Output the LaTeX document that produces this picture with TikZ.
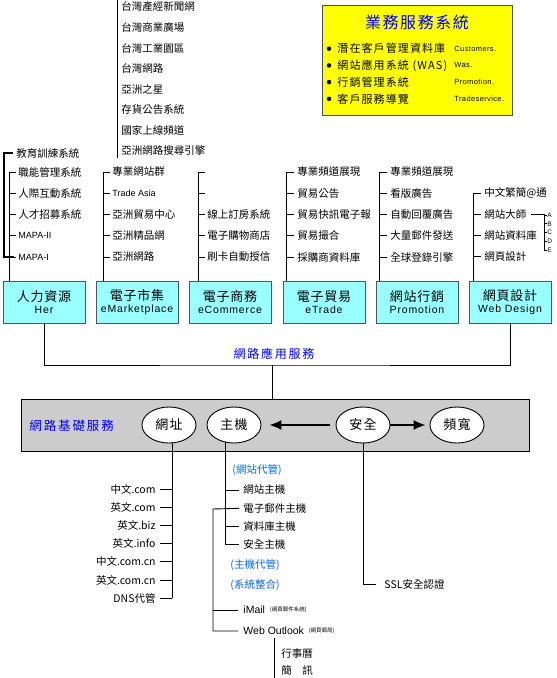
\documentclass[tikz,border=0pt]{standalone}
\usepackage{fontspec}
\setmainfont{Noto Sans CJK TC}
\newfontfamily\latinfont{Liberation Sans}
\usepackage{tikz}
\usetikzlibrary{shapes,arrows.meta,positioning,calc}
\definecolor{bizyellow}{RGB}{255,255,0}
\definecolor{svcblue}{RGB}{0,0,255}
\definecolor{hostblue}{RGB}{0,102,255}
\definecolor{boxcyan}{RGB}{153,255,255}
\definecolor{bandgray}{RGB}{204,204,204}
\definecolor{boxedge}{RGB}{70,90,100}

\tikzset{
  item/.style={anchor=west,inner sep=0pt,font=\fontsize{10.5}{11}\selectfont},
  ritem/.style={anchor=east,inner sep=0pt,font=\fontsize{10.5}{11}\selectfont},
  svcbox/.style={draw=boxedge,fill=boxcyan,minimum width=82pt,minimum height=42pt,inner sep=0pt,align=center},
  oval/.style={ellipse,draw,fill=white,minimum width=54pt,minimum height=36pt,inner sep=0pt,
               font=\fontsize{13}{13}\selectfont\addfontfeature{LetterSpace=8}},
  bluetxt/.style={anchor=west,inner sep=0pt,text=hostblue,font=\fontsize{10.5}{11}\selectfont},
  bigarrow/.style={-{Latex[length=12pt,width=10pt]},line width=1.4pt},
}
\newcommand{\boxlabel}[2]{{\fontsize{13}{17}\selectfont\addfontfeature{LetterSpace=6}#1}\\{\latinfont\fontsize{10.5}{12}\selectfont\addfontfeature{LetterSpace=8}#2}}
\newcommand{\lat}[1]{{\latinfont\fontsize{9}{9}\selectfont #1}}

\begin{document}
\begin{tikzpicture}[x=1pt,y=-1pt,line width=0.9pt]
\useasboundingbox (0,0) rectangle (557,678);

% 業務服務系統
\node[draw=black!70,fill=bizyellow,minimum width=190pt,minimum height=110pt,inner sep=0pt] (biz) at (417,60) {};
\node[text=svcblue,inner sep=0pt,font=\fontsize{16}{16}\selectfont\addfontfeature{LetterSpace=10}] (biztitle) at (417,22) {業務服務系統};
\foreach \txt/\eng [count=\i] in {潛在客戶管理資料庫/Customers.,網站應用系統 (WAS)/Was.,行銷管理系統/Promotion.,客戶服務導覽/Tradeservice.} {
  \node[circle,fill,inner sep=0pt,minimum size=4.5pt] (bul\i) at (329,{32+\i*16.7}) {};
  \node[item,font=\fontsize{11}{11}\selectfont\addfontfeature{LetterSpace=10}] (biz\i) at (337,{32+\i*16.7}) {\txt};
  \node[item,font=\latinfont\fontsize{7.5}{8}\selectfont\addfontfeature{LetterSpace=5}] (bizen\i) at (454,{32+\i*16.7}) {\eng};
}

% service boxes
\node[svcbox] (hr) at (44,302) {\boxlabel{人力資源}{Her}};
\node[svcbox] (emkt) at (137,302) {\boxlabel{電子市集}{eMarketplace}};
\node[svcbox] (ecom) at (230,302) {\boxlabel{電子商務}{eCommerce}};
\node[svcbox] (etrade) at (324,302) {\boxlabel{電子貿易}{eTrade}};
\node[svcbox] (promo) at (417,302) {\boxlabel{網站行銷}{Promotion}};
\node[svcbox] (webd) at (510,302) {\boxlabel{網頁設計}{Web Design}};

% 人力資源
\coordinate (hrspine) at (9,172);
\coordinate (hrouter) at (4,153);
\node[item] (hr0) at (16,153) {教育訓練系統};
\foreach \txt [count=\i] in {職能管理系統,人際互動系統,人才招募系統,\lat{MAPA-II},\lat{MAPA-I}} {
  \node[item] (hr\i) at (18,{172+(\i-1)*21.25}) {\txt};
  \draw (hrspine |- hr\i.west) -- ([xshift=-2pt]hr\i.west);
}
\draw (hrspine) -- (hrspine |- hr.north);
\draw[line width=1.8pt] ([xshift=-3pt]hr0.west) -| (hrouter |- hr5.west) -- ([xshift=-4pt]hr5.west);

% 電子市集
\coordinate (mkttop) at (117,0);
\coordinate (mktbot) at (117,158);
\draw (mkttop) -- (mktbot);
\foreach \txt [count=\i] in {台灣產經新聞網,台灣商業廣場,台灣工業園區,台灣網路,亞洲之星,存貨公告系統,國家上線頻道,亞洲網路搜尋引擎}
  \node[item] (mkt\i) at (121,{7+(\i-1)*20.5}) {\txt};
\coordinate (emspine) at (103,172);
\foreach \txt [count=\i] in {專業網站群,\lat{Trade Asia},亞洲貿易中心,亞洲精品網,亞洲網路} {
  \node[item] (em\i) at (112,{172+(\i-1)*21.25}) {\txt};
  \draw (emspine |- em\i.west) -- ([xshift=-2pt]em\i.west);
}
\draw (emspine) -- (emspine |- emkt.north);

% 電子商務
\coordinate (ecspine) at (198,172);
\coordinate (ec1) at (205,172);
\coordinate (ec2) at (205,193);
\draw (ecspine) -- (ec1);
\draw (ecspine |- ec2) -- (ec2);
\foreach \txt [count=\i from 3] in {線上訂房系統,電子購物商店,刷卡自動授信} {
  \node[item] (ec\i) at (207,{172+(\i-1)*21.25}) {\txt};
  \draw (ecspine |- ec\i.west) -- ([xshift=-2pt]ec\i.west);
}
\draw (ecspine) -- (ecspine |- ecom.north);

% 電子貿易
\coordinate (etspine) at (286,172);
\foreach \txt [count=\i] in {專業頻道展現,貿易公告,貿易快訊電子報,貿易撮合,採購商資料庫} {
  \node[item] (et\i) at (297,{172+(\i-1)*21.25}) {\txt};
  \draw (etspine |- et\i.west) -- ([xshift=-3pt]et\i.west);
}
\draw (etspine) -- (etspine |- etrade.north);

% 網站行銷
\coordinate (prspine) at (379,172);
\foreach \txt [count=\i] in {專業頻道展現,看版廣告,自動回覆廣告,大量郵件發送,全球登錄引擎} {
  \node[item] (pr\i) at (390,{172+(\i-1)*21.25}) {\txt};
  \draw (prspine |- pr\i.west) -- ([xshift=-3pt]pr\i.west);
}
\draw (prspine) -- (prspine |- promo.north);

% 網頁設計
\coordinate (wdspine) at (473,193);
\foreach \txt [count=\i] in {中文繁簡@通,網站大師,網站資料庫,網頁設計} {
  \node[item] (wd\i) at (484,{193+(\i-1)*21.3}) {\txt};
  \draw (wdspine |- wd\i.west) -- ([xshift=-3pt]wd\i.west);
}
\draw (wdspine) -- (wdspine |- webd.north);
\coordinate (abc) at (544,215);
\foreach \l [count=\i] in {A,B,C,D,E} {
  \node[anchor=west,inner sep=0pt,font=\latinfont\fontsize{6.5}{6.5}\selectfont] (ltr\i) at (547,{215+(\i-1)*8.8}) {\l};
  \draw[line width=0.7pt] (abc |- ltr\i.west) -- (ltr\i.west);
}
\draw ([xshift=4pt]wd2.east) -- (abc |- wd2.east) -- (abc |- ltr5.west);

% 網路應用服務
\coordinate (appjoin) at (272,365);
\draw (hr.south) |- (appjoin) -| (webd.south);
\node[text=svcblue,inner sep=0pt,font=\fontsize{12}{12}\selectfont\addfontfeature{LetterSpace=15}] (applbl) at (274,354) {網路應用服務};

% 網路基礎服務
\node[draw,fill=bandgray,minimum width=508pt,minimum height=52pt,inner sep=0pt] (band) at (275,425) {};
\draw (appjoin) -- (appjoin |- band.north);
\node[anchor=west,inner sep=0pt,text=svcblue,font=\fontsize{12.5}{13}\selectfont\addfontfeature{LetterSpace=15}] (bandlbl) at (29,426) {網路基礎服務};
\node[oval] (addr) at (169,425) {網址};
\node[oval] (host) at (234,425) {主機};
\node[oval] (sec) at (363,425) {安全};
\node[oval] (bw) at (457,425) {頻寬};
\draw[bigarrow,shorten <=6pt,shorten >=8pt] (sec) -- (host);
\draw[bigarrow,shorten >=4pt] (sec) -- (bw);

% 網址
\coordinate (addrspine) at (172,443);
\foreach \txt [count=\i] in {中文.com,英文.com,英文.biz,英文.info,中文.com.cn,英文.com.cn,DNS代管} {
  \node[ritem] (dom\i) at (156,{489+(\i-1)*18.2}) {\txt};
  \draw ([xshift=4pt]dom\i.east) -- (addrspine |- dom\i.east);
}
\draw (addrspine) -- (addrspine |- dom7.east);

% 主機
\coordinate (hostspine) at (225,442);
\node[bluetxt] (hostsite) at (232,470) {(網站代管)};
\foreach \txt [count=\i] in {網站主機,電子郵件主機,資料庫主機,安全主機} {
  \node[item] (hst\i) at (243,{490+(\i-1)*18.3}) {\txt};
  \draw (hostspine |- hst\i.west) -- ([xshift=-4pt]hst\i.west);
}
\draw (hostspine) -- (hostspine |- hst4.west);
\node[bluetxt] (hostrent) at (230,565) {(主機代管)};
\node[bluetxt] (sysint) at (230,585) {(系統整合)};

% mail
\coordinate (mailspine) at (213,509);
\node[item,font=\latinfont\fontsize{10.5}{11}\selectfont] (imail) at (243,610) {iMail};
\node[right=4pt of imail,inner sep=0pt,font=\fontsize{5.5}{6}\selectfont] (imailnote) {(網頁郵件系統)};
\node[item,font=\latinfont\fontsize{10.5}{11}\selectfont] (outlook) at (243,631) {Web Outlook};
\node[right=4pt of outlook,inner sep=0pt,font=\fontsize{5.5}{6}\selectfont] (outlooknote) {(網頁郵局)};
\draw ([xshift=-4pt]hst2.west) -- (mailspine) |- ([xshift=-5pt]outlook.west);
\draw (mailspine |- imail.west) -- ([xshift=-5pt]imail.west);

\coordinate (calspine) at (274,638);
\coordinate (calend) at (274,678);
\draw (calspine) -- (calend);
\node[item] (cal1) at (281,654) {行事曆};
\node[item] (cal2) at (281,670) {簡　訊};

% 安全
\node[item] (ssl) at (384,584) {SSL安全認證};
\draw (sec.south) |- ([xshift=-8pt]ssl.west);
\end{tikzpicture}
\end{document}
